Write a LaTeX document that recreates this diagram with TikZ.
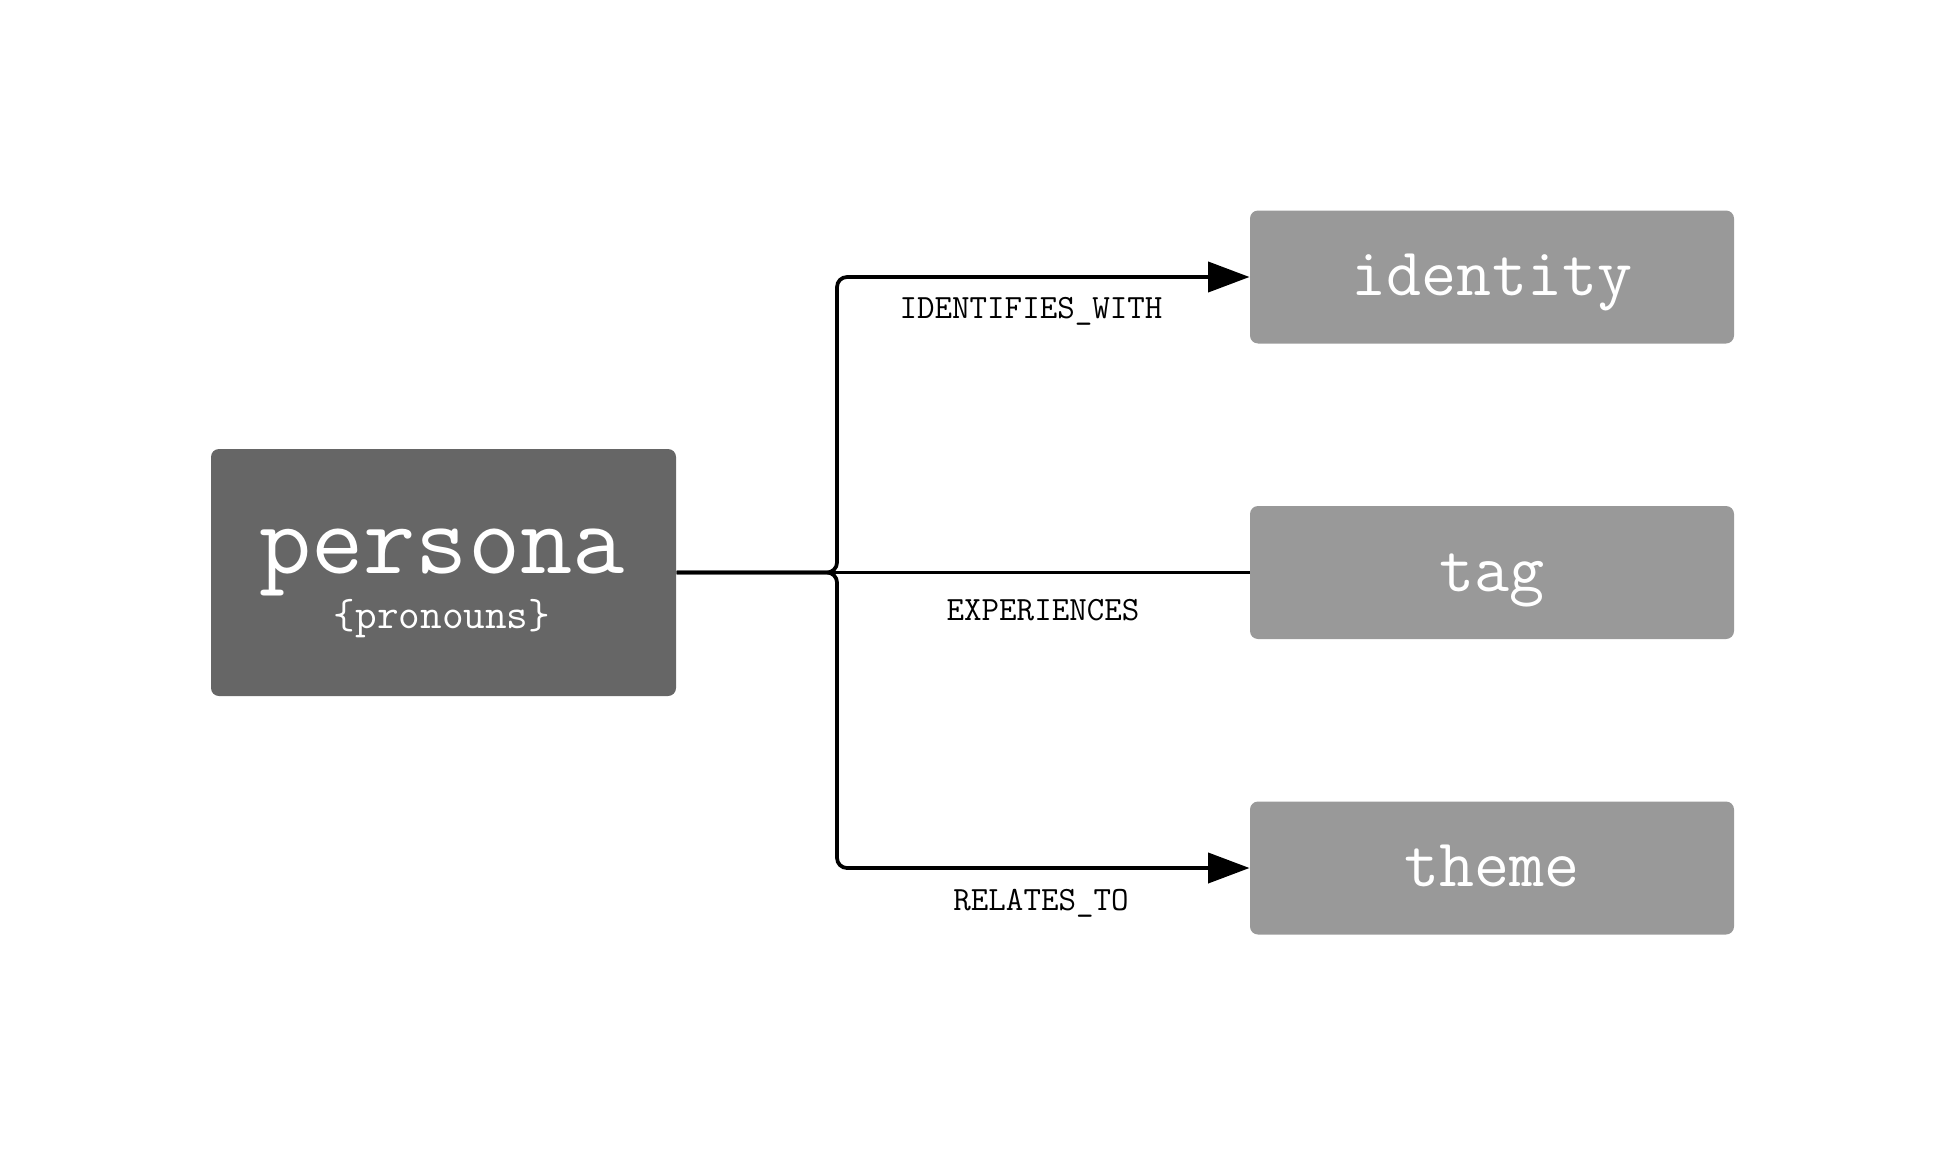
\documentclass[tikz,border=0pt]{standalone}
\usetikzlibrary{arrows.meta}

\definecolor{personagrey}{RGB}{102,102,102}
\definecolor{entitygrey}{RGB}{153,153,153}

\tikzset{every picture/.style={line width=0.75pt}}
\tikzset{
  entitybox/.style={draw=none, fill=entitygrey, rounded corners=6pt, inner sep=0pt,
    minimum width=363pt, minimum height=99.75pt, text=white,
    font=\ttfamily\fontsize{51}{51}\selectfont, text height=29pt, text depth=1pt},
  relline/.style={line width=2.8pt, rounded corners=7.5pt},
  relarrow/.style={relline, -{Triangle[length=31pt,width=22.5pt]}},
  rellabel/.style={anchor=base, inner sep=0pt, font=\ttfamily\fontsize{25.5}{25.5}\selectfont}
}

\begin{document}
\begin{tikzpicture}[x=0.75pt,y=0.75pt,yscale=-1,xscale=1]
\useasboundingbox (0,0) rectangle (1945,1149);

%Shape: Rectangle [persona]
\node [fill=personagrey, rounded corners=6pt, inner sep=0pt, minimum width=348.75pt, minimum height=185.25pt] (persona) at (443.5,572.5) {};
% Text Node
\node [anchor=base, inner sep=0pt, text=white, font=\ttfamily\fontsize{76}{76}\selectfont] (personaname) at (442,573) {persona};
% Text Node
\node [anchor=base, inner sep=0pt, text=white, font=\ttfamily\fontsize{31.5}{31.5}\selectfont] (personapron) at (442,628) {\{pronouns\}};

%Shape: Rectangle [targets]
\node [entitybox] (identity) at (1492,277) {identity};
\node [entitybox] (tag) at (1492,572.5) {tag};
\node [entitybox] (theme) at (1492,868) {theme};

%Straight Lines
\coordinate (fork) at (837,572.5);
\draw [relarrow] (persona.east) -- (fork) |- (identity.west);
\draw [relline] (persona.east) -- (tag.west);
\draw [relarrow] (persona.east) -- (fork) |- (theme.west);

% Text Node
\node [rellabel] (identlabel) at (1031,318.5) {IDENTIFIES\_WITH};
% Text Node
\node [rellabel] (explabel) at (1043,620.5) {EXPERIENCES};
% Text Node
\node [rellabel] (rellabel) at (1041,910) {RELATES\_TO};

\end{tikzpicture}
\end{document}
